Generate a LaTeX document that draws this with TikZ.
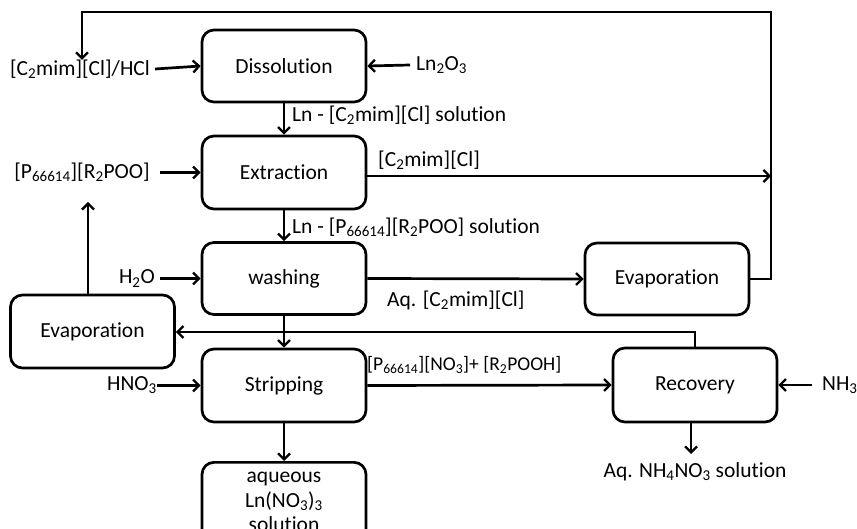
\documentclass[tikz,border=0pt]{standalone}
\usepackage{fontspec}
\setmainfont{Carlito}[Ligatures=NoCommon]
\usetikzlibrary{arrows.meta}
\begin{document}
\begin{tikzpicture}[x=1pt,y=-1pt,
  box/.style={draw,line width=2.7pt,rounded corners=12pt,minimum width=164pt,inner sep=0pt,font=\fontsize{21.5}{24.5}\selectfont,align=center},
  lbl/.style={inner sep=0pt,font=\fontsize{21.5}{25}\selectfont},
  slbl/.style={inner sep=0pt,font=\fontsize{19.5}{22}\selectfont},
  arr/.style={line width=2.7pt,-{Straight Barb[length=6pt,width=12pt,line width=2.3pt]}}]
\clip (0,0) rectangle (857,529);
\useasboundingbox (0,0) rectangle (857,529);
\fill[white] (0,0) rectangle (857,529);
% boxes
\node[box,minimum height=72pt] (diss) at (284,66) {Dissolution};
\node[box,minimum height=73pt] (extr) at (284,172.5) {Extraction};
\node[box,minimum height=72pt] (wash) at (284,278.5) {washing};
\node[box,minimum height=73pt] (strip) at (284,385.5) {Stripping};
\node[box,minimum height=80pt,anchor=north] (aq) at (284,461) {aqueous\\Ln(NO\textsubscript{3})\textsubscript{3}\\solution};
\node[box,minimum height=73pt] (evapL) at (92.5,331.5) {Evaporation};
\node[box,minimum height=72pt] (evapR) at (667,279) {Evaporation};
\node[box,minimum height=74pt] (rec) at (695,385) {Recovery};
% inputs
\node[lbl,anchor=east] (cl) at (150,69) {[C\textsubscript{2}mim][Cl]/HCl};
\node[lbl,anchor=west] (ln) at (416,65) {Ln\textsubscript{2}O\textsubscript{3}};
\node[lbl,anchor=east] (p) at (150,172.5) {[P\textsubscript{66614}][R\textsubscript{2}POO]};
\node[lbl,anchor=east] (h2o) at (155,278.5) {H\textsubscript{2}O};
\node[lbl,anchor=east] (hno3) at (157,385.5) {HNO\textsubscript{3}};
\node[lbl,anchor=west] (nh3) at (822,385) {NH\textsubscript{3}};
% labels
\node[lbl,anchor=west] (l1) at (292,115) {Ln - [C\textsubscript{2}mim][Cl] solution};
\node[lbl,anchor=west] (l2) at (378,160) {[C\textsubscript{2}mim][Cl]};
\node[lbl,anchor=west] (l3) at (292,227) {Ln - [P\textsubscript{66614}][R\textsubscript{2}POO] solution};
\node[lbl,anchor=west] (l4) at (387,300) {Aq. [C\textsubscript{2}mim][Cl]};
\node[slbl,anchor=west] (l5) at (367,365) {[P\textsubscript{66614}][NO\textsubscript{3}]+ [R\textsubscript{2}POOH]};
\node[lbl] (l6) at (695,472) {Aq. NH\textsubscript{4}NO\textsubscript{3} solution};
% coordinates
\coordinate (rv) at (771,279);
\coordinate (rt) at (771,12);
\coordinate (lt) at (82,12);
\coordinate (ld) at (82,60);
\coordinate (rx) at (771,176);
\coordinate (ru) at (695,332);
\coordinate (rd) at (691,454);
% connectors
\draw[arr] (evapR.east) -- (rv) -- (rt) -- (lt) -- (ld);
\draw[arr] (cl.east)++(5,0) -- (diss.west);
\draw[arr] (ln.west)++(-6,0) -- (diss.east);
\draw[arr] (diss.south) -- (extr.north);
\draw[arr] (p.east)++(10,0) -- (extr.west);
\draw[arr] (extr.east |- rx) -- (rx);
\draw[arr] (extr.south) -- (wash.north);
\draw[arr] (evapL.north -| 88,0) -- (88,202);
\draw[arr] (h2o.east)++(5,0) -- (wash.west);
\draw[arr] (wash.east) -- (evapR.west);
\draw[arr] (wash.south) -- (strip.north);
\draw[arr] (rec.north) -- (ru) -- (ru -| evapL.east);
\draw[arr] (hno3.east) -- (strip.west);
\draw[arr] (strip.east) -- (rec.west);
\draw[arr] (nh3.west)++(-10,0) -- (rec.east);
\draw[arr] (rec.south -| rd) -- (rd);
\draw[arr] (strip.south) -- (aq.north);
\end{tikzpicture}
\end{document}
